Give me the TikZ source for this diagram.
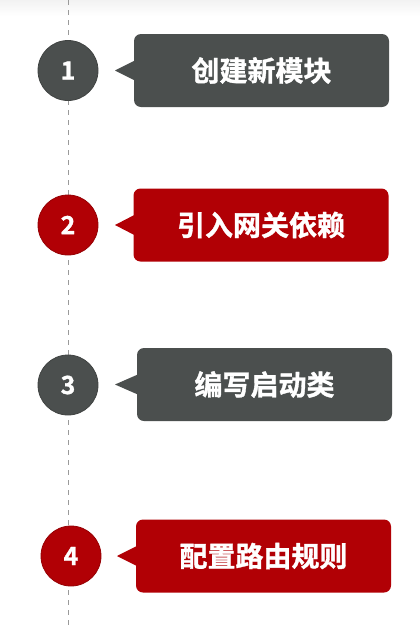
\documentclass[tikz,border=0pt]{standalone}
\usepackage{fontspec}
\setmainfont{Noto Sans CJK SC}
\newfontfamily\heavyfont{Noto Sans CJK SC Bold}[FakeBold=1.2]
\usetikzlibrary{calc}
\definecolor{stepgray}{HTML}{4B4F4E}
\definecolor{stepred}{HTML}{B10005}
\definecolor{lineGray}{HTML}{9A9A9A}
\tikzset{
  numcirc/.style={circle, fill=#1, draw=#1!85!black, line width=0.8pt, minimum size=60pt, inner sep=0pt,
    text=white, font=\heavyfont\fontsize{25}{25}\selectfont},
  stepbox/.style={rectangle, rounded corners=7pt, fill=#1, minimum width=255pt, minimum height=73pt,
    inner sep=0pt, text=white, font=\heavyfont\fontsize{28}{28}\selectfont},
  pointer/.style={fill=#1}
}
\begin{document}
\begin{tikzpicture}[x=1pt,y=-1pt]
\useasboundingbox (0,0) rectangle (420,627);
\fill[white] (0,0) rectangle (420,627);
\shade[top color=black!5, bottom color=white] (0,0) rectangle (420,16);
\coordinate (ltop) at (68,0);
\coordinate (lbot) at (68,627);
\draw[lineGray, line width=1pt, dash pattern=on 5pt off 5pt] (ltop) -- (lbot);

% step 1
\node[stepbox=stepgray] (b1) at (261.5,70.5) {创建新模块};
\coordinate (t1) at (115,70.5);
\fill[pointer=stepgray] ($(b1.west)+(1,-10)$) -- (t1) -- ($(b1.west)+(1,10)$) -- cycle;
\node[numcirc=stepgray] (c1) at (68,70.5) {1};

% step 2
\node[stepbox=stepred] (b2) at (261,225) {引入网关依赖};
\coordinate (t2) at (115,225);
\fill[pointer=stepred] ($(b2.west)+(1,-10)$) -- (t2) -- ($(b2.west)+(1,10)$) -- cycle;
\node[numcirc=stepred] (c2) at (68,225) {2};

% step 3
\node[stepbox=stepgray] (b3) at (264.5,384.5) {编写启动类};
\coordinate (t3) at (115,384.5);
\fill[pointer=stepgray] ($(b3.west)+(1,-10)$) -- (t3) -- ($(b3.west)+(1,10)$) -- cycle;
\node[numcirc=stepgray] (c3) at (68,385) {3};

% step 4
\node[stepbox=stepred] (b4) at (263.5,556) {配置路由规则};
\coordinate (t4) at (117,556);
\fill[pointer=stepred] ($(b4.west)+(1,-10)$) -- (t4) -- ($(b4.west)+(1,10)$) -- cycle;
\node[numcirc=stepred] (c4) at (71,556) {4};
\end{tikzpicture}
\end{document}
